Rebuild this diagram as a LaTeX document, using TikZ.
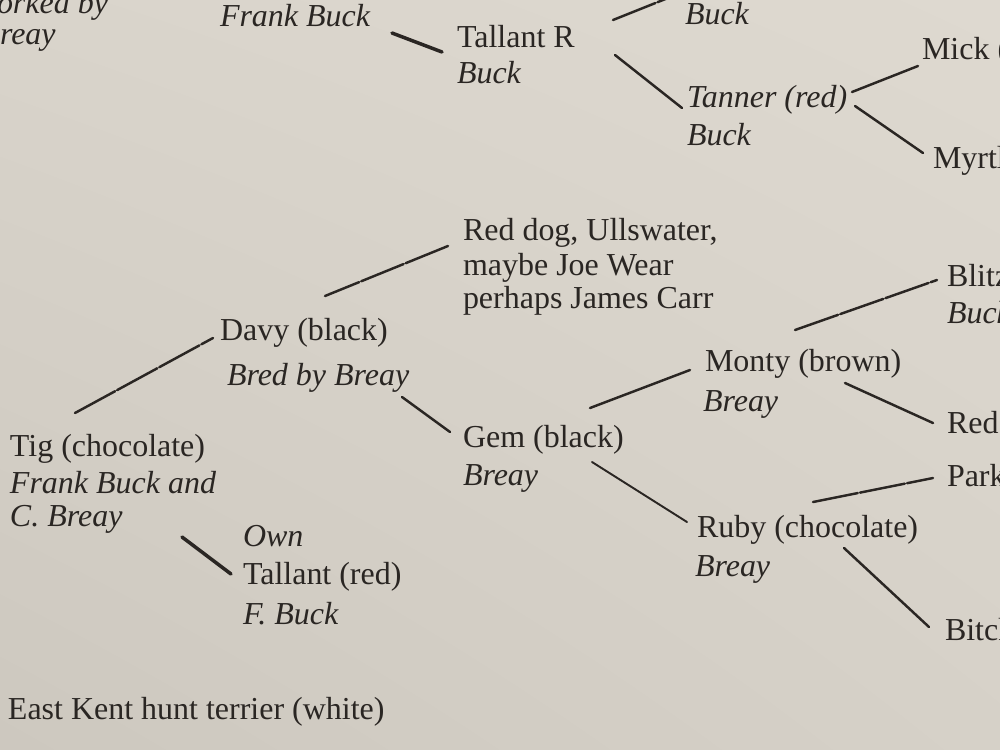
\documentclass[tikz,border=0pt]{standalone}
\usepackage{fontspec}
\setmainfont{Liberation Serif}
\usetikzlibrary{shadings}
\definecolor{ink}{HTML}{2A2623}
\definecolor{paperUL}{HTML}{D9D4CB}
\definecolor{paperUR}{HTML}{DED9D0}
\definecolor{paperLL}{HTML}{CDC8BF}
\definecolor{paperLR}{HTML}{D6D1C8}
\begin{document}
\begin{tikzpicture}[x=0.02cm,y=-0.02cm,
  txt/.style={anchor=base west, inner sep=0pt, outer sep=0pt, text=ink, font=\fontsize{18.2}{22}\selectfont},
  it/.style={txt, font=\fontsize{18.2}{22}\selectfont\itshape},
  link/.style={draw=ink, line width=1.4pt, line cap=round},
  thick link/.style={link, line width=2pt},
  thin link/.style={link, line width=1.1pt},
  broken link/.style={link, dash pattern=on 26pt off 1.3pt}]
\useasboundingbox (0,0) rectangle (1000,750);
\shade[upper left=paperUL, upper right=paperUR, lower left=paperLL, lower right=paperLR] (0,0) rectangle (1000,750);
\clip (0,0) rectangle (1000,750);

% text
\node[it]  (workedby)   at (-3,14)   {orked by};
\node[it]  (breaytop)   at (0,45)    {reay};
\node[it]  (frankbuck)  at (220,27)  {Frank Buck};
\node[txt] (tallantR)   at (457,48)  {Tallant R};
\node[it]  (tallantRo)  at (457,84)  {Buck};
\node[it]  (bucktop)    at (685,25)  {Buck};
\node[it]  (tanner)     at (687,108) {Tanner (red)};
\node[it]  (tannero)    at (687,145) {Buck};
\node[txt] (mick)       at (922,60)  {Mick (};
\node[txt] (myrtle)     at (933,168) {Myrtl};
\node[txt] (reddogA)    at (463,240) {Red dog, Ullswater,};
\node[txt] (reddogB)    at (463,275) {maybe Joe Wear};
\node[txt] (reddogC)    at (463,308) {perhaps James Carr};
\node[txt] (davy)       at (220,340) {Davy (black)};
\node[it]  (davyo)      at (227,385) {Bred by Breay};
\node[txt] (blitz)      at (947,286) {Blitz};
\node[it]  (blitzo)     at (947,323) {Buck};
\node[txt] (monty)      at (705,371) {Monty (brown)};
\node[it]  (montyo)     at (703,411) {Breay};
\node[txt] (red)        at (947,433) {Red};
\node[txt] (gem)        at (463,447) {Gem (black)};
\node[it]  (gemo)       at (463,485) {Breay};
\node[txt] (tig)        at (10,456)  {Tig (chocolate)};
\node[it]  (tigoA)      at (10,493)  {Frank Buck and};
\node[it]  (tigoB)      at (10,526)  {C. Breay};
\node[txt] (park)       at (947,486) {Park};
\node[txt] (ruby)       at (697,537) {Ruby (chocolate)};
\node[it]  (rubyo)      at (695,576) {Breay};
\node[it]  (own)        at (243,546) {Own};
\node[txt] (tallant)    at (243,584) {Tallant (red)};
\node[it]  (tallanto)   at (243,624) {F. Buck};
\node[txt] (bitch)      at (945,640) {Bitch};
\node[txt] (ekht)       at (8,719)   {East Kent hunt terrier (white)};

% connector end points
\coordinate (fbS) at (392,33);   \coordinate (fbE) at (442,52);
\coordinate (trU) at (613,20);   \coordinate (trUe) at (668,-2);
\coordinate (trD) at (615,55);   \coordinate (trDe) at (682,108);
\coordinate (taU) at (852,92);   \coordinate (taUe) at (918,66);
\coordinate (taD) at (855,106);  \coordinate (taDe) at (923,153);
\coordinate (rdS) at (448,246);  \coordinate (rdE) at (325,296);
\coordinate (tgS) at (75,413);   \coordinate (tgE) at (213,338);
\coordinate (dvS) at (402,397);  \coordinate (dvE) at (450,432);
\coordinate (gmU) at (590,408);  \coordinate (gmUe) at (690,370);
\coordinate (mtU) at (795,330);  \coordinate (mtUe) at (937,280);
\coordinate (mtD) at (845,383);  \coordinate (mtDe) at (933,423);
\coordinate (gmD) at (592,462);  \coordinate (gmDe) at (687,522);
\coordinate (rbU) at (813,502);  \coordinate (rbUe) at (933,478);
\coordinate (rbD) at (844,548);  \coordinate (rbDe) at (929,627);
\coordinate (tgD) at (182,537);  \coordinate (tgDe) at (231,574);

% connectors
\draw[thick link]  (fbS) -- (fbE);
\draw[broken link] (trU) -- (trUe);
\draw[link]        (trD) -- (trDe);
\draw[link]        (taU) -- (taUe);
\draw[link]        (taD) -- (taDe);
\draw[broken link] (rdS) -- (rdE);
\draw[broken link] (tgS) -- (tgE);
\draw[link]        (dvS) -- (dvE);
\draw[link]        (gmU) -- (gmUe);
\draw[broken link] (mtU) -- (mtUe);
\draw[link]        (mtD) -- (mtDe);
\draw[thin link]   (gmD) -- (gmDe);
\draw[broken link] (rbU) -- (rbUe);
\draw[link]        (rbD) -- (rbDe);
\draw[thick link]  (tgD) -- (tgDe);
\end{tikzpicture}
\end{document}
